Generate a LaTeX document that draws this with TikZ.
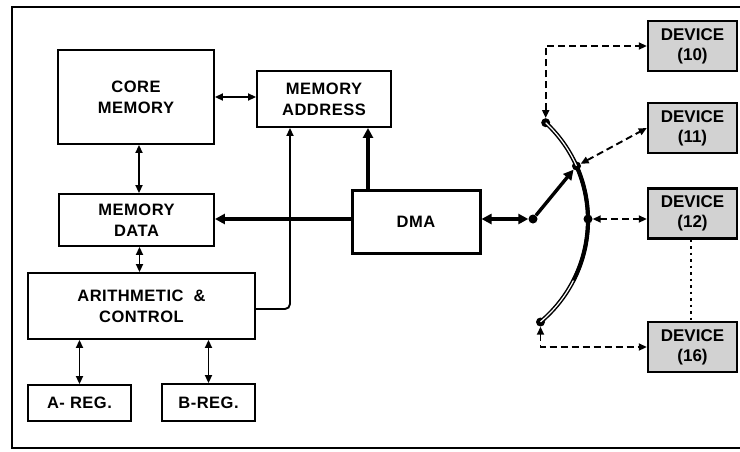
\documentclass[tikz,border=0pt]{standalone}
\usepackage{fontspec}
\setmainfont{Liberation Sans}
\newfontfamily\blkfont[LetterSpace=3]{Liberation Sans}
\usetikzlibrary{arrows.meta}

\tikzset{
  blk/.style={draw, line width=1.9pt, align=center, inner sep=0pt,
    font=\blkfont\bfseries\fontsize{16.5}{21}\selectfont},
  dev/.style={draw, line width=2.4pt, fill=gray!35, align=center, inner sep=0pt,
    minimum width=89pt, minimum height=50pt,
    font=\bfseries\fontsize{17}{20}\selectfont},
  sig/.style={line width=1.9pt},
  bus/.style={line width=3.4pt, >={Triangle[length=10pt,width=10pt]}},
  lnk/.style={line width=1.9pt, dash pattern=on 7pt off 4pt, >={Triangle[length=8pt,width=7pt]}},
  dot/.style={circle, fill, inner sep=0pt, minimum size=9pt}
}

\begin{document}
\begin{tikzpicture}[x=1pt, y=-1pt, >={Triangle[length=8pt,width=7pt]}]
\useasboundingbox (0,0) rectangle (740,451);
% frame
\draw[line width=2.6pt] (748,7) -- (12,7) -- (12,448) -- (748,448);

% processor blocks
\node[blk, minimum width=156pt, minimum height=94pt] (core) at (136,97) {CORE\\MEMORY};
\node[blk, minimum width=134pt, minimum height=56pt] (maddr) at (324,99) {MEMORY\\ADDRESS};
\node[blk, minimum width=155pt, minimum height=52pt] (mdata) at (136.5,220) {MEMORY\\DATA};
\node[blk, line width=3pt, minimum width=128pt, minimum height=63pt] (dma) at (416,221.5) {DMA};
\node[blk, minimum width=227pt, minimum height=66pt] (arith) at (141.5,306) {ARITHMETIC \ \&\\CONTROL};
\node[blk, minimum width=103pt, minimum height=36pt] (areg) at (79.5,403) {A- REG.};
\node[blk, minimum width=93pt, minimum height=37pt] (breg) at (208.5,402.5) {B-REG.};

% devices
\node[dev] (dev10) at (692.5,46) {DEVICE\\(10)};
\node[dev] (dev11) at (692.5,128) {DEVICE\\(11)};
\node[dev] (dev12) at (692.5,213.5) {DEVICE\\(12)};
\node[dev] (dev16) at (692.5,347) {DEVICE\\(16)};

% internal paths
\draw[sig, <->] (core.east) -- (core.east -| maddr.west);
\draw[sig, <->] ([xshift=3pt]core.south) -- ([xshift=3pt]core.south |- mdata.north);
\draw[sig, <->] ([xshift=3pt]mdata.south) -- ([xshift=3pt]mdata.south |- arith.north);
\draw[sig, <->] (areg.north) -- (areg.north |- arith.south);
\draw[sig, <->] (breg.north) -- (breg.north |- arith.south);
\draw[sig, ->, rounded corners=5pt] ([yshift=-3pt]arith.east) -| ([xshift=-34pt]maddr.south);
\draw[bus, ->] ([xshift=-48pt]dma.north) -- ([xshift=-48pt]dma.north |- maddr.south);
\draw[bus, ->] ([yshift=2.5pt]dma.west) -- ([yshift=2.5pt]dma.west -| mdata.east);

% switch
\node[dot] (pivot) at (533,219) {};
\node[dot] (ptop) at (545.7,122.7) {};
\node[dot] (pcon) at (576.5,166) {};
\node[dot] (pmid) at (588,219) {};
\node[dot] (pbot) at (540.5,322) {};
\draw[line width=1.5pt, double, double distance=1.2pt] plot[domain=-47:50, samples=60] ({455+133*cos(\x)}, {220+133*sin(\x)});
\draw[line width=3.6pt] plot[domain=-24:27, samples=30] ({455+133*cos(\x)}, {220+133*sin(\x)});
\draw[bus, <->] ([yshift=2.5pt]dma.east) -- (pivot);
\draw[bus, ->] (pivot) -- (pcon);

% device links
\draw[lnk, <->] (ptop) |- (dev10);
\draw[lnk, <->] (pcon) -- (dev11.west);
\draw[lnk, <->] (pmid) -- (pmid -| dev12.west);
\draw[lnk, <->] (pbot) |- (dev16);
\draw[line width=2pt, dash pattern=on 2.5pt off 4pt] ([xshift=-2pt]dev12.south) -- ([xshift=-2pt]dev16.north);
\end{tikzpicture}
\end{document}
